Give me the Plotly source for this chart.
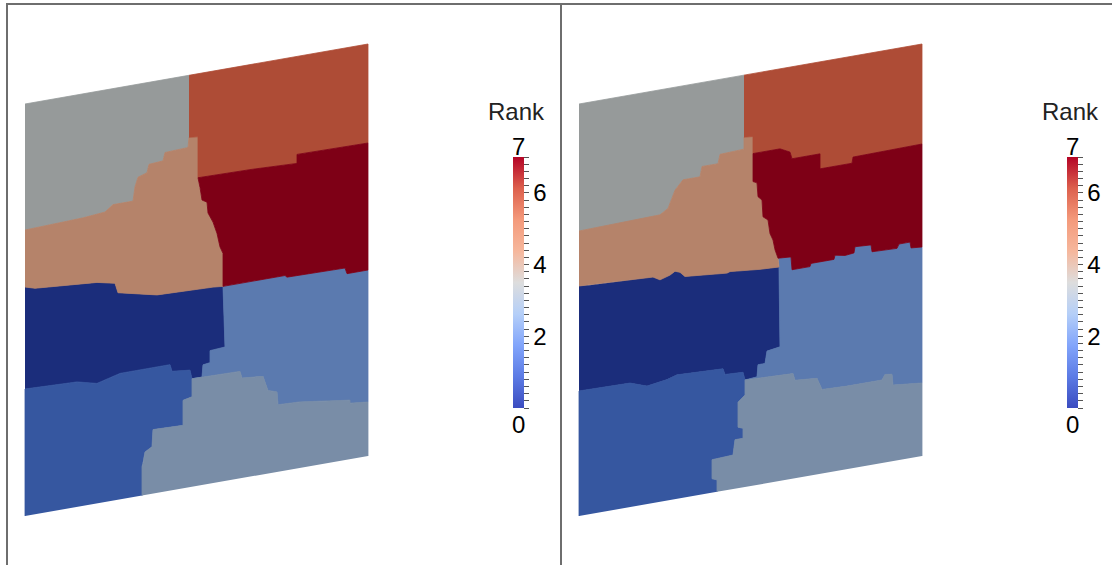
import plotly.graph_objects as go

# ---------------- data ----------------
# Partition of a rectangular plate (mesh units) into 8 MPI ranks, two decompositions.
MESH_W = 343
MESH_H = 412
RANKS = [0, 1, 2, 3, 4, 5, 6, 7]
COLORBAR_TITLE = "Rank"
CB_LABELS = {2: "2", 4: "4", 6: "6"}
CB_END_LABELS = ["0", "7"]

# Left decomposition: partition boundary polylines in mesh coordinates (X, Y)
L_B45 = [(0, 286), (58, 288), (80, 290), (88, 296), (108, 296), (110, 310), (113, 319), (122, 322),
         (124, 330), (138, 331), (140, 339), (163, 340), (164, 350)]
L_SPIKE = (173, 349)
L_B67 = [(173, 308), (226, 307), (272, 305), (272, 314), (343, 313)]
L_B57 = [(173, 308), (175, 298), (177, 285), (182, 282), (183, 271), (188, 261), (192, 249),
         (195, 235), (198, 228), (198, 195)]
L_B50 = [(0, 229), (10, 226), (72, 221), (90, 217), (93, 207), (132, 198), (188, 196), (198, 195)]
L_B72 = [(198, 195), (260, 195), (262, 193), (320, 192), (322, 186), (343, 186)]
L_B02 = [(198, 195), (200, 134), (185, 133), (185, 121), (178, 120), (177, 108), (167, 108)]
L_B01 = [(0, 127), (52, 125), (72, 120), (95, 126), (145, 126), (147, 119), (165, 117), (167, 108)]
L_B13 = [(167, 108), (167, 90), (158, 88), (158, 63), (128, 64), (127, 47), (120, 43), (118, 32),
         (117, 29), (117, 0)]
L_B23 = [(167, 108), (215, 107), (217, 100), (238, 98), (240, 92), (243, 83), (252, 80), (253, 67),
         (275, 66), (325, 59), (325, 56), (343, 54)]

# Right decomposition
R_B45 = [(0, 285), (59, 286), (81, 287), (89, 292), (96, 309), (104, 318), (121, 318), (123, 328),
         (139, 328), (141, 337), (165, 338), (165, 350)]
R_SPIKE = (174, 349)
R_B67 = [(174, 332), (201, 332), (211, 327), (213, 320), (241, 320), (241, 305), (273, 305),
         (274, 311), (343, 312)]
R_B57 = [(174, 332), (174, 304), (178, 302), (179, 288), (183, 284), (184, 267), (189, 263),
         (191, 249), (194, 242), (196, 232), (199, 223)]
R_B50 = [(0, 230), (9, 229), (74, 226), (81, 222), (91, 225), (96, 228), (101, 226), (106, 221),
         (148, 217), (151, 218), (181, 215), (200, 214)]
R_B72 = [(199, 223), (212, 222), (213, 209), (231, 209), (232, 212), (255, 212), (256, 216),
         (266, 214), (275, 215), (276, 221), (292, 220), (293, 213), (318, 212), (320, 216),
         (331, 216), (332, 210), (343, 209)]
R_B02 = [(200, 214), (201, 134), (188, 132), (186, 120), (179, 120), (178, 108), (166, 107)]
R_B01 = [(0, 125), (51, 124), (68, 118), (88, 121), (98, 124), (144, 122), (146, 116), (164, 115),
         (166, 107)]
R_B13 = [(166, 107), (166, 92), (159, 86), (159, 61), (164, 59), (164, 49), (156, 49), (154, 34),
         (133, 33), (133, 14), (138, 12), (138, 0)]
R_B23 = [(166, 107), (214, 105), (216, 98), (238, 96), (243, 84), (268, 83), (303, 83), (306, 88),
         (313, 87), (314, 76), (343, 73)]

# ---------------- style ----------------
# lit (shaded) colours of the cool-to-warm map for each rank, as rendered
RANK_COLORS = {
    0: "rgb(27,45,123)", 1: "rgb(54,87,160)", 2: "rgb(91,122,175)", 3: "rgb(121,141,167)",
    4: "rgb(150,154,154)", 5: "rgb(181,131,106)", 6: "rgb(174,76,54)", 7: "rgb(126,0,22)",
}
COOLWARM = [
    [0.0, "rgb(59,76,192)"], [0.125, "rgb(92,123,229)"], [0.25, "rgb(130,165,251)"],
    [0.375, "rgb(181,207,248)"], [0.5, "rgb(221,221,221)"], [0.625, "rgb(246,183,156)"],
    [0.75, "rgb(244,154,123)"], [0.875, "rgb(221,96,77)"], [1.0, "rgb(180,4,38)"],
]
FONT = "Liberation Sans, Arial, sans-serif"
LABEL_SIZE = 24
CANVAS_W, CANVAS_H = 1112, 565
SHEAR = 60 / 343            # camera tilt of the view (screen units per mesh unit)
VIEWS = [                   # screen origin of each view (bottom-left corner of plate)
    dict(ox=25, oy=516, cbx=513, b=dict(B45=L_B45, SP=L_SPIKE, B67=L_B67, B57=L_B57, B50=L_B50,
                                        B72=L_B72, B02=L_B02, B01=L_B01, B13=L_B13, B23=L_B23)),
    dict(ox=579, oy=516, cbx=1067, b=dict(B45=R_B45, SP=R_SPIKE, B67=R_B67, B57=R_B57, B50=R_B50,
                                          B72=R_B72, B02=R_B02, B01=R_B01, B13=R_B13, B23=R_B23)),
]


def rev(p):
    return list(reversed(p))


def region_polygons(b):
    W, H = MESH_W, MESH_H
    x46 = b["B45"][-1][0]
    return {
        4: [(0, H), (x46, H)] + rev(b["B45"]),
        6: [(x46, H), (W, H)] + rev(b["B67"]) + [b["SP"], b["B45"][-1]],
        5: b["B45"] + [b["SP"]] + b["B57"] + rev(b["B50"]),
        7: b["B67"] + [(W, b["B72"][-1][1])] + rev(b["B72"]) + rev(b["B57"]),
        0: b["B50"] + b["B02"] + rev(b["B01"]),
        2: b["B72"] + [(W, b["B23"][-1][1])] + rev(b["B23"]) + rev(b["B02"]),
        1: [(0, 0)] + b["B01"] + b["B13"],
        3: rev(b["B13"]) + b["B23"] + [(W, 0)],
    }


fig = go.Figure()

for v in VIEWS:
    polys = region_polygons(v["b"])
    for rank in RANKS:
        pts = polys[rank]
        xs = [v["ox"] + X for X, Y in pts]
        ys = [v["oy"] - Y - SHEAR * X for X, Y in pts]
        col = RANK_COLORS[rank]
        fig.add_trace(go.Scatter(x=xs, y=ys, mode="lines", fill="toself", fillcolor=col,
                                 line=dict(color=col, width=0.8), hoverinfo="skip",
                                 showlegend=False))

    # colour legend
    tickvals = [i / 5 for i in range(0, 36)]
    ticktext = [CB_LABELS.get(round(t), "") if abs(t - round(t)) < 1e-9 else "" for t in tickvals]
    fig.add_trace(go.Scatter(
        x=[None], y=[None], mode="markers", hoverinfo="skip", showlegend=False,
        marker=dict(color=[min(RANKS), max(RANKS)], cmin=min(RANKS), cmax=max(RANKS),
                    colorscale=COOLWARM, showscale=True, size=0.1,
                    colorbar=dict(x=v["cbx"] / CANVAS_W, xanchor="left", xpad=0, ypad=0,
                                  y=0.5, yanchor="middle", len=251, lenmode="pixels",
                                  thickness=11, thicknessmode="pixels", outlinewidth=0,
                                  tickvals=tickvals, ticktext=ticktext, ticks="outside",
                                  ticklen=5, tickwidth=1, tickcolor="#555",
                                  tickfont=dict(family=FONT, size=LABEL_SIZE, color="black")))))
    cx = v["cbx"] + 5.5
    fig.add_annotation(x=cx - 2, y=111, text=COLORBAR_TITLE, showarrow=False,
                       font=dict(family=FONT, size=LABEL_SIZE, color="#222"),
                       xanchor="center", yanchor="middle")
    fig.add_annotation(x=cx, y=146, text=CB_END_LABELS[1], showarrow=False,
                       font=dict(family=FONT, size=LABEL_SIZE, color="black"),
                       xanchor="center", yanchor="middle")
    fig.add_annotation(x=cx, y=424, text=CB_END_LABELS[0], showarrow=False,
                       font=dict(family=FONT, size=LABEL_SIZE, color="black"),
                       xanchor="center", yanchor="middle")

# view frames
frame = dict(color="rgb(110,110,110)", width=2)
fig.add_shape(type="line", x0=6, x1=CANVAS_W, y0=4, y1=4, line=frame)
fig.add_shape(type="line", x0=7, x1=7, y0=3, y1=CANVAS_H, line=frame)
fig.add_shape(type="line", x0=561, x1=561, y0=3, y1=CANVAS_H, line=frame)

fig.update_xaxes(range=[0, CANVAS_W], visible=False, fixedrange=True)
fig.update_yaxes(range=[CANVAS_H, 0], visible=False, fixedrange=True)
fig.update_layout(width=CANVAS_W, height=CANVAS_H, margin=dict(l=0, r=0, t=0, b=0),
                  plot_bgcolor="white", paper_bgcolor="white", showlegend=False)

fig.write_html("out.html", config={"displayModeBar": False},
               post_script="document.body.style.margin='0';")
